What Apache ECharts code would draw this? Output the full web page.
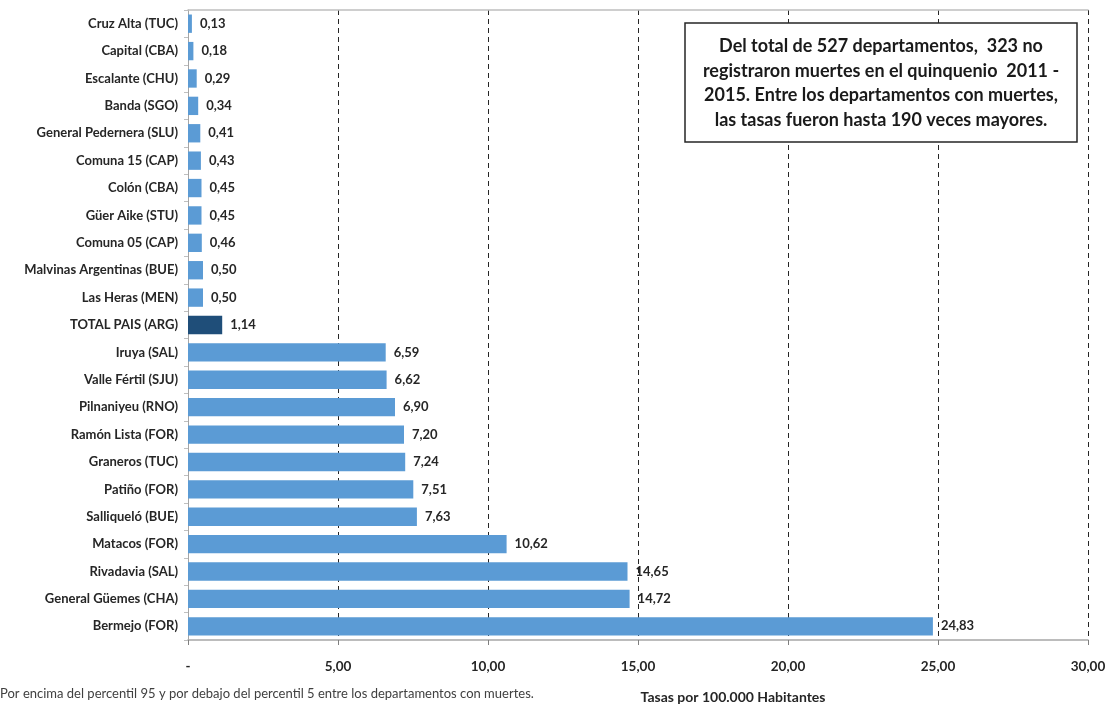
<!DOCTYPE html>
<html><head><meta charset="utf-8">
<script src="https://cdn.jsdelivr.net/npm/echarts@6/dist/echarts.min.js"></script>
<style>html,body{margin:0;padding:0;background:#fff}#c{width:1107px;height:705px}</style>
</head><body><div id="c"></div>
<script>
const categories = ["Cruz Alta (TUC)","Capital (CBA)","Escalante (CHU)","Banda (SGO)","General Pedernera (SLU)","Comuna 15 (CAP)","Colón (CBA)","Güer Aike (STU)","Comuna 05 (CAP)","Malvinas Argentinas (BUE)","Las Heras (MEN)","TOTAL PAIS (ARG)","Iruya (SAL)","Valle Fértil (SJU)","Pilnaniyeu (RNO)","Ramón Lista (FOR)","Graneros (TUC)","Patiño (FOR)","Salliqueló (BUE)","Matacos (FOR)","Rivadavia (SAL)","General Güemes (CHA)","Bermejo (FOR)"];
const values = [0.13,0.18,0.29,0.34,0.41,0.43,0.45,0.45,0.46,0.50,0.50,1.14,6.59,6.62,6.90,7.20,7.24,7.51,7.63,10.62,14.65,14.72,24.83];
const highlight = "TOTAL PAIS (ARG)";
const xTicks = [0,5,10,15,20,25,30];
const axisTitle = "Tasas por 100.000 Habitantes";
const footnote = "Por encima del percentil 95 y por debajo del percentil 5 entre los departamentos con muertes.";
const noteLines = ["Del total de 527 departamentos,  323 no","registraron muertes en el quinquenio  2011 -","2015. Entre los departamentos con muertes,","las tasas fueron hasta 190 veces mayores."];

const fmt = v => v === 0 ? "-" : v.toFixed(2).replace(".", ",");
const FONT = "Lato, 'Open Sans', sans-serif";
const xmin = xTicks[0], xmax = xTicks[xTicks.length-1];
const chart = echarts.init(document.getElementById('c'), null, {renderer:'canvas'});
chart.setOption({
  animation:false,
  grid:{left:188,right:19,top:10,bottom:65,show:false,containLabel:false,outerBoundsMode:'none'},
  xAxis:[{type:'value',min:xmin,max:xmax,interval:5,
    axisLine:{show:true,lineStyle:{color:'#a6a6a6',width:1.5}},
    axisTick:{show:true,length:5,lineStyle:{color:'#7f7f7f'}},
    axisLabel:{formatter:fmt,color:'#262626',fontFamily:FONT,fontWeight:'bold',fontSize:13.5,margin:20},
    splitLine:{show:true,showMinLine:false,showMaxLine:true,lineStyle:{color:'#262626',type:[5,4],width:1}},
    name:axisTitle,nameLocation:'middle',nameGap:50,
    nameTextStyle:{color:'#262626',fontFamily:FONT,fontWeight:'bold',fontSize:14,padding:[0,0,0,190]}
  },{type:'value',position:'top',min:xmin,max:xmax,interval:5,
    axisLine:{show:true,lineStyle:{color:'#bfbfbf',width:1.5}},
    axisTick:{show:false},axisLabel:{show:false},splitLine:{show:false}
  }],
  yAxis:{type:'category',data:categories,inverse:true,
    axisLine:{show:true,lineStyle:{color:'#a6a6a6'}},
    axisTick:{show:true,length:4,lineStyle:{color:'#bfbfbf'}},
    axisLabel:{color:'#262626',fontFamily:FONT,fontWeight:'bold',fontSize:13,margin:10}
  },
  series:[{type:'bar',barWidth:'67%',xAxisIndex:0,
    data:values.map((v,i)=>({value:v,itemStyle:{color:categories[i]===highlight?'#1f4e79':'#5b9bd5'}})),
    label:{show:true,position:'right',distance:8,formatter:p=>fmt(p.value),color:'#262626',fontFamily:FONT,fontWeight:'bold',fontSize:13}
  }],
  graphic:[
    {type:'rect',shape:{x:685,y:23,width:392,height:119},style:{fill:'#fff',stroke:'#262626',lineWidth:1.5},z:100},
    {type:'text',x:881,y:83,z:101,style:{text:noteLines.join('\n'),align:'center',verticalAlign:'middle',lineHeight:24.5,font:"bold 18px "+FONT,fill:'#1a1a1a'}},
    {type:'text',left:0,top:687,style:{text:footnote,font:"13px "+FONT,fill:'#404040'}}
  ]
});
</script></body></html>
